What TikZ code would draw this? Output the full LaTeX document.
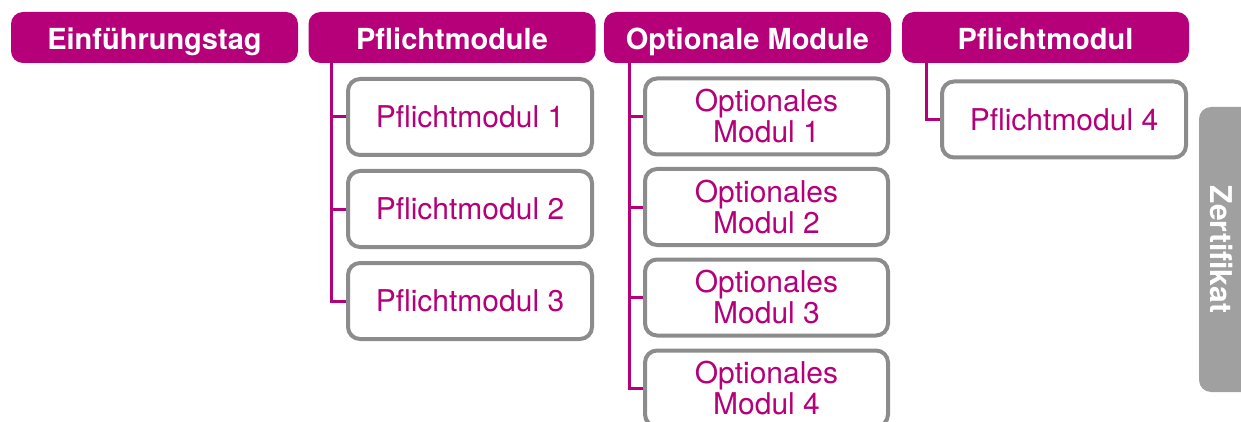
\documentclass[tikz,border=0pt]{standalone}
\usepackage{fontspec}
\setmainfont{TeX Gyre Heros}
\usetikzlibrary{backgrounds}
\definecolor{mag}{RGB}{181,0,122}
\definecolor{bordergray}{RGB}{140,140,140}
\definecolor{zgray}{RGB}{160,160,160}
\tikzset{
  head/.style={fill=mag, rounded corners=12pt, minimum width=287pt, minimum height=51pt, inner sep=0pt,
    text height=24pt, text depth=0pt,
    text=white, font=\fontsize{29}{31}\selectfont\bfseries},
  child/.style={draw=bordergray, line width=4pt, fill=white, rounded corners=12pt, minimum width=244pt,
    minimum height=76pt, inner sep=0pt, text=mag, align=center, font=\fontsize{30}{31}\selectfont},
  conn/.style={draw=mag, line width=3pt},
}
\begin{document}
\begin{tikzpicture}[x=1pt,y=-1pt]
\useasboundingbox (0,0) rectangle (1241,422);
\node[head] (h1) at (154.5,37.5) {Einführungstag};
\node[head] (h2) at (452,37.5) {Pflichtmodule};
\node[head] (h3) at (747.5,37.5) {Optionale Module};
\node[head] (h4) at (1045.5,37.5) {Pflichtmodul};

\node[child] (p1) at (470,117) {Pflichtmodul 1};
\node[child] (p2) at (470,209) {Pflichtmodul 2};
\node[child] (p3) at (470,301) {Pflichtmodul 3};

\node[child, minimum width=243pt] (o1) at (766.5,116.5) {Optionales\\Modul 1};
\node[child, minimum width=243pt] (o2) at (766.5,207) {Optionales\\Modul 2};
\node[child, minimum width=243pt] (o3) at (766.5,297.5) {Optionales\\Modul 3};
\node[child, minimum width=243pt] (o4) at (766.5,388.5) {Optionales\\Modul 4};

\node[child] (p4) at (1064,119.5) {Pflichtmodul 4};

\coordinate (c1) at (331,60);
\coordinate (c2) at (629,60);
\coordinate (c3) at (926,60);
\begin{scope}[on background layer]
\draw[conn] (c1) |- (p3.west);
\draw[conn] (c1|-p1.west) -- (p1.west);
\draw[conn] (c1|-p2.west) -- (p2.west);
\draw[conn] (c2) |- (o4.west);
\draw[conn] (c2|-o1.west) -- (o1.west);
\draw[conn] (c2|-o2.west) -- (o2.west);
\draw[conn] (c2|-o3.west) -- (o3.west);
\draw[conn] (c3) |- (p4.west);
\end{scope}

\fill[zgray, rounded corners=12pt] (1199,107) rectangle (1270,392);
\node[text=white, rotate=-90, font=\fontsize{30}{30}\selectfont\bfseries] (z) at (1222,249.5) {Zertifikat};
\end{tikzpicture}
\end{document}
